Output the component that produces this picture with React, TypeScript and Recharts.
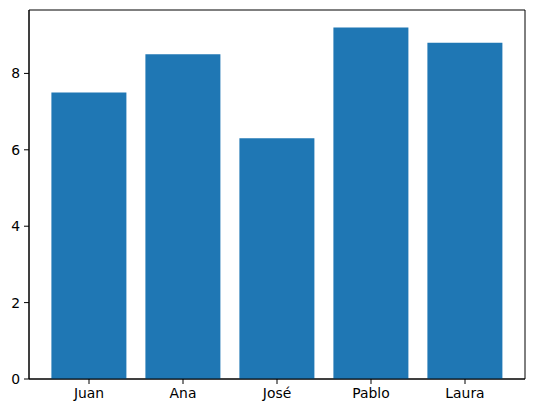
import React from 'react';
import { BarChart, Bar, XAxis, YAxis, ReferenceArea } from 'recharts';

// Names and scores
const names = ['Juan', 'Ana', 'José', 'Pablo', 'Laura'];
const scores = [7.5, 8.5, 6.3, 9.2, 8.8];
const yTicks = [0, 2, 4, 6, 8];
const yMax = 9.66;

const data = names.map((name, i) => ({ name, score: scores[i], pos: i }));
const lastPos = names.length - 1;

const font = { fontSize: 13.9, fill: '#000', fontFamily: 'DejaVu Sans' };

const App: React.FC = () => {
  return (
    <div style={{ position: 'absolute', left: 0, top: 0, width: 534, height: 413, background: '#fff' }}>
      <BarChart
        width={534}
        height={413}
        data={data}
        margin={{ top: 10, right: 9, bottom: 0, left: 0 }}
        barCategoryGap="10%"
      >
        <XAxis
          dataKey="name"
          height={34}
          padding={{ left: 13, right: 13 }}
          tick={font}
          tickSize={5}
          tickMargin={4}
          stroke="#000"
          tickLine={{ stroke: '#000' }}
          axisLine={{ stroke: '#000' }}
        />
        {/* hidden axis spanning the whole plot width, used for the frame */}
        <XAxis xAxisId="frame" dataKey="pos" type="number" domain={[0, lastPos]} hide />
        <YAxis
          width={29}
          domain={[0, yMax]}
          ticks={yTicks}
          tick={font}
          tickSize={5}
          tickMargin={4}
          stroke="#000"
          tickLine={{ stroke: '#000' }}
          axisLine={{ stroke: '#000' }}
        />
        <Bar dataKey="score" fill="#1f77b4" isAnimationActive={false} />
        <ReferenceArea xAxisId="frame" x1={0} x2={lastPos} y1={0} y2={yMax} fill="none" stroke="#000" strokeWidth={1} ifOverflow="visible" />
      </BarChart>
    </div>
  );
};

export default App;
